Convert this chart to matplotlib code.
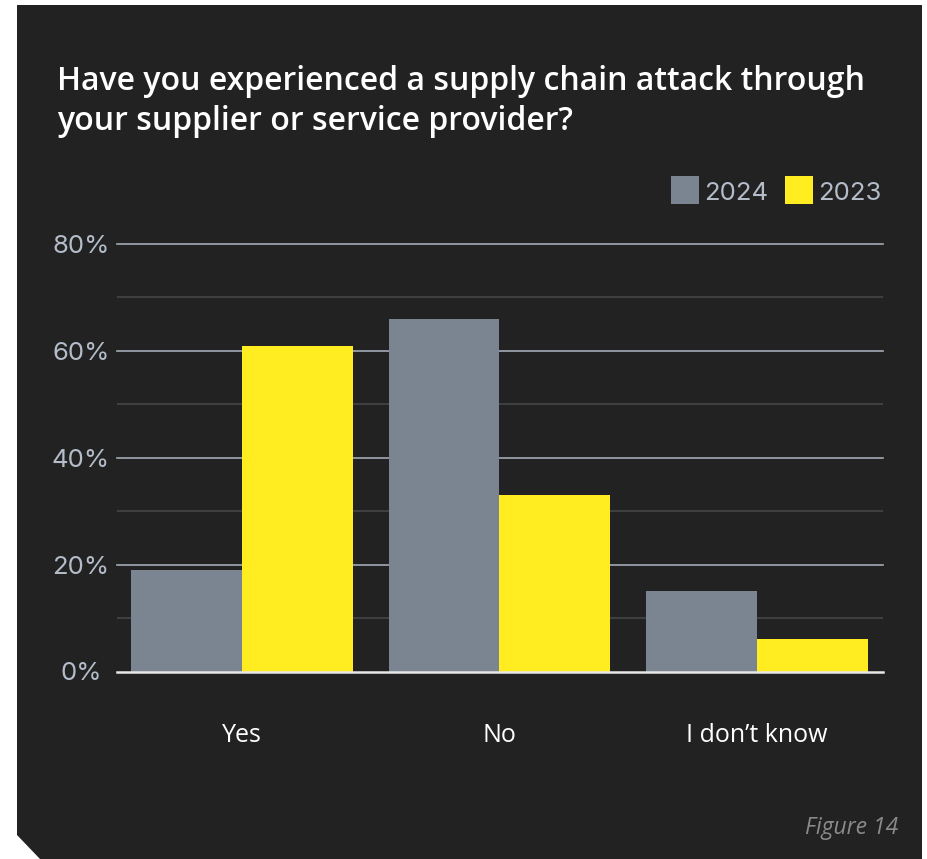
import matplotlib
matplotlib.use("Agg")
import matplotlib.pyplot as plt
from matplotlib.patches import Polygon
import numpy as np

categories = ["Yes", "No", "I don\u2019t know"]
series_names = ["2024", "2023"]
values_2024 = [19, 66, 15]
values_2023 = [61, 33, 6]
y_ticks = [0, 20, 40, 60, 80]
y_tick_labels = ["0%", "20%", "40%", "60%", "80%"]
minor_ticks = [10, 30, 50, 70]

W, H = 928, 859
PANEL = "#222222"
GRAY = "#7b8491"
YELLOW = "#ffec21"
TICK_COLOR = "#b3bcc8"

fig = plt.figure(figsize=(W / 100, H / 100), dpi=100)
fig.patch.set_facecolor("white")

# dark card with a clipped bottom-left corner (pixel coords -> figure fraction)
pts = [(17, 5), (922, 5), (922, 859), (40, 859), (17, 835)]
card = Polygon([(x / W, 1 - y / H) for x, y in pts], closed=True,
               transform=fig.transFigure, facecolor=PANEL, edgecolor="none", zorder=-5)
fig.patches.append(card)

ax = fig.add_axes([117 / W, 1 - 671.5 / H, (883 - 117) / W, (671.5 - 244) / H])
ax.set_facecolor("none")
ax.set_zorder(2)

x = np.arange(len(categories))
bw = 0.431
ax.bar(x - bw / 2, values_2024, width=bw, color=GRAY, zorder=3, label=series_names[0])
ax.bar(x + bw / 2, values_2023, width=bw, color=YELLOW, zorder=3, label=series_names[1])

ax.set_xlim(-0.486, 2.49)
ax.set_ylim(0, 80)

for v in minor_ticks:
    ax.axhline(v, color="#444648", lw=1.2, zorder=1)
for v in y_ticks[1:]:
    ax.axhline(v, color="#a2aab5", lw=1.2, zorder=1, clip_on=False)
ax.axhline(0, color="#e8e8e8", lw=1.8, zorder=4, clip_on=False)

for s in ax.spines.values():
    s.set_visible(False)

ax.set_yticks(y_ticks)
ax.set_yticklabels(y_tick_labels, fontfamily="Inter", fontsize=18.5, color=TICK_COLOR,
                   ha="center")
ax.tick_params(axis="y", length=0, pad=26)
ax.set_xticks(x)
ax.set_xticklabels(categories, fontfamily="Open Sans", fontsize=18, color="white")
ax.tick_params(axis="x", length=0, pad=37)

fig.text(57 / W, 1 - 130 / H, "Have you experienced a supply chain attack through\nyour supplier or service provider?",
         fontfamily="Open Sans", fontweight="semibold", fontsize=23, color="white",
         ha="left", va="baseline", linespacing=1.3)

# legend drawn as patches + labels
for (lx, tx, name, col) in [(671, 704, "2024", GRAY), (785, 818, "2023", YELLOW)]:
    sq = plt.Rectangle((lx / W, 1 - 204 / H), 28 / W, 28 / H, transform=fig.transFigure,
                       facecolor=col, edgecolor="none")
    fig.patches.append(sq)
    fig.text(tx / W, 1 - 200 / H, name, fontfamily="Inter", fontsize=18.5, color=TICK_COLOR,
             ha="left", va="baseline")

fig.text(898 / W, 1 - 834 / H, "Figure 14", fontfamily="Open Sans", style="italic",
         fontsize=16.5, color="#8a8a8a", ha="right", va="baseline")

fig.savefig("out.png", dpi=100, facecolor=fig.get_facecolor())
